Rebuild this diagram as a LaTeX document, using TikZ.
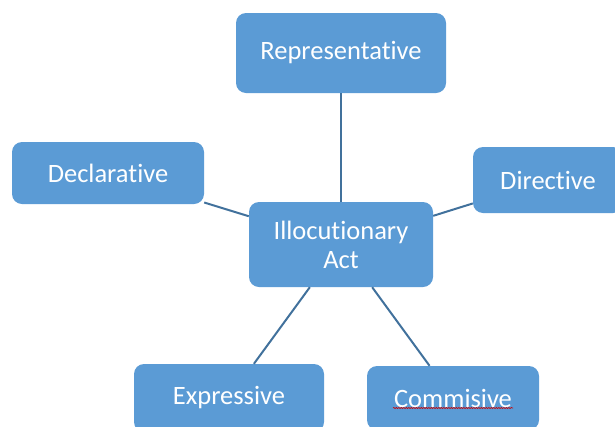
\documentclass[tikz,border=0pt]{standalone}
\usepackage{fontspec}
\setmainfont{Carlito}[Ligatures=CommonOff]
\usetikzlibrary{decorations.pathmorphing}
\definecolor{boxfill}{HTML}{5B9BD5}
\definecolor{linkcol}{HTML}{41719C}
\begin{document}
\begin{tikzpicture}[x=1pt,y=-1pt,
  box/.style={draw=none, fill=boxfill, rounded corners=10pt, text=white,
    font=\fontsize{26.5}{29}\selectfont, align=center, inner sep=0pt},
  link/.style={draw=linkcol, line width=2pt}]
\useasboundingbox (0,0) rectangle (615,426);
\node[box, minimum width=210pt, minimum height=80pt] (rep) at (341,53) {Representative};
\node[box, minimum width=192pt, minimum height=62pt] (decl) at (108,173) {Declarative};
\node[box, minimum width=150pt, minimum height=66pt] (dir) at (548,180) {Directive};
\node[box, minimum width=184pt, minimum height=85pt] (illo) at (341,244.5) {Illocutionary\\Act};
\node[box, minimum width=190pt, minimum height=68pt] (expr) at (229,398) {Expressive};
\node[box, minimum width=172pt, minimum height=64pt] (comm) at (453,398) {Commisive};
\draw[link] (rep) -- (illo);
\draw[link] (decl) -- (illo);
\draw[link] (dir) -- (illo);
\draw[link] (illo) -- (expr);
\draw[link] (illo) -- (comm);
\draw[red!80!black, line width=0.6pt, decorate, decoration={snake, amplitude=0.6pt, segment length=2.5pt}]
  ([xshift=-60pt,yshift=-10pt]comm.center) -- ([xshift=60pt,yshift=-10pt]comm.center);
\end{tikzpicture}
\end{document}
